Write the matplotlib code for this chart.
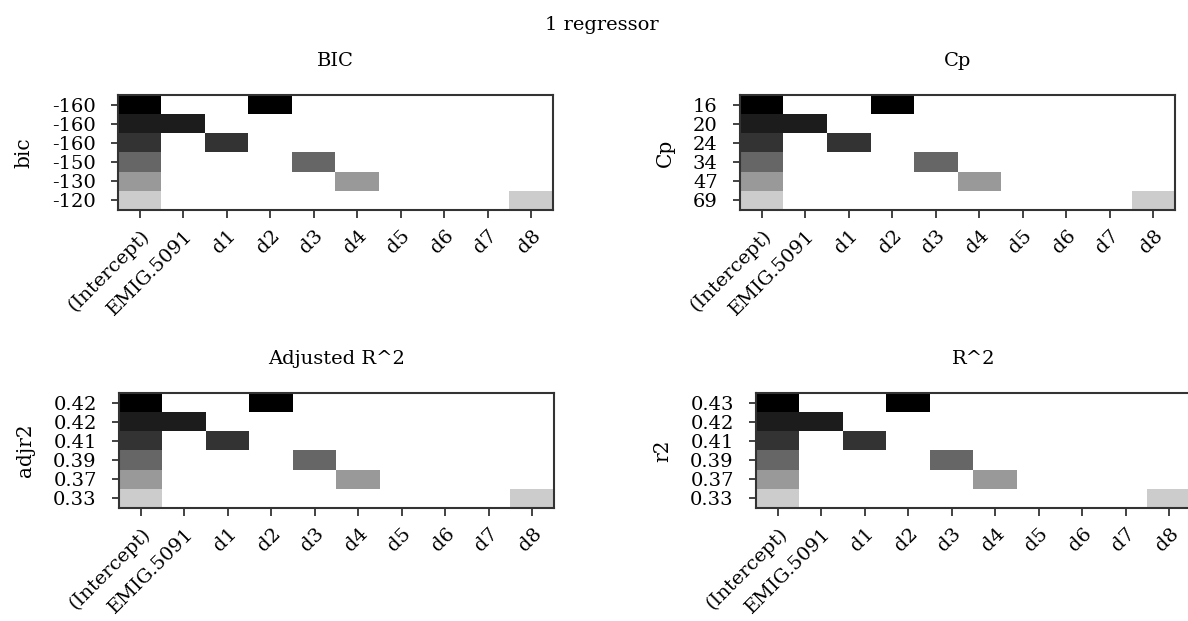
import matplotlib
matplotlib.use("Agg")
import matplotlib.pyplot as plt
import numpy as np
from matplotlib.colors import ListedColormap

plt.rcParams['font.family'] = ['DejaVu Serif']

variables = ['(Intercept)', 'EMIG.5091', 'd1', 'd2', 'd3', 'd4', 'd5', 'd6', 'd7', 'd8']

# which variables are in each model, rows from top (best) to bottom
models = [
    ['(Intercept)', 'd2'],
    ['(Intercept)', 'EMIG.5091'],
    ['(Intercept)', 'd1'],
    ['(Intercept)', 'd3'],
    ['(Intercept)', 'd4'],
    ['(Intercept)', 'd8'],
]

bic_labels = ['-160', '-160', '-160', '-150', '-130', '-120']
cp_labels = ['16', '20', '24', '34', '47', '69']
adjr2_labels = ['0.42', '0.42', '0.41', '0.39', '0.37', '0.33']
r2_labels = ['0.43', '0.42', '0.41', '0.39', '0.37', '0.33']

shades = ['#000000', '#1c1c1c', '#333333', '#666666', '#999999', '#cccccc']

panels = [
    ('BIC', 'bic', bic_labels, [118, 95, 435, 115]),
    ('Cp', 'Cp', cp_labels, [740, 95, 435, 115]),
    ('Adjusted R^2', 'adjr2', adjr2_labels, [119, 393, 435, 115]),
    ('R^2', 'r2', r2_labels, [756, 393, 435, 115]),
]

W, H = 1188, 621
fig = plt.figure(figsize=(W / 100, H / 100), dpi=100)

# inclusion grid: shade index where included, masked otherwise
grid = np.full((len(models), len(variables)), np.nan)
for i, m in enumerate(models):
    for v in m:
        grid[i, variables.index(v)] = i
grid = np.ma.masked_invalid(grid)
cmap = ListedColormap(shades)

for title, ylab, labels, (x, y, w, h) in panels:
    ax = fig.add_axes([x / W, (H - y - h) / H, w / W, h / H])
    ax.imshow(grid, cmap=cmap, vmin=-0.5, vmax=5.5, aspect='auto',
              interpolation='nearest')
    ax.set_xticks(range(len(variables)))
    ax.set_xticklabels(variables, rotation=45, ha='right', va='top',
                       rotation_mode='anchor', fontsize=14)
    ax.set_yticks(range(len(labels)))
    ax.set_yticklabels(labels, fontsize=14)
    ax.set_ylabel(ylab, fontsize=14.5, labelpad=13)
    ax.set_title(title, fontsize=14, pad=21)
    ax.tick_params(axis='y', length=5, width=1.2, color='#222222', pad=11)
    ax.tick_params(axis='x', length=6, width=1.2, color='#222222', pad=6)
    for s in ax.spines.values():
        s.set_linewidth(1.5)
        s.set_color('#333333')

fig.text(602 / W, 1 - 25 / H, '1 regressor', ha='center', va='center', fontsize=14)

fig.savefig('out.png', dpi=100)
